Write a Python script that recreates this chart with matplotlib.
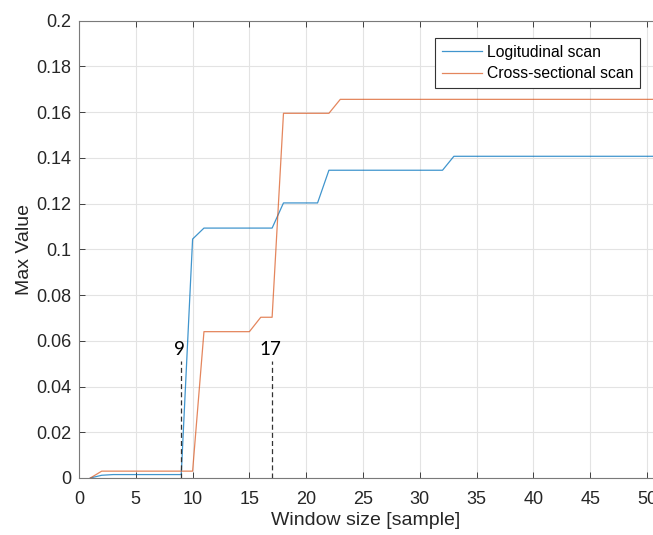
import matplotlib
matplotlib.use("Agg")
import matplotlib.pyplot as plt
import numpy as np

# Data
window = [1, 2, 3, 4, 5, 6, 7, 8, 9, 10, 11, 12, 13, 14, 15, 16, 17, 18, 19, 20,
          21, 22, 23, 24, 25, 26, 27, 28, 29, 30, 31, 32, 33, 34, 35, 36, 37, 38,
          39, 40, 41, 42, 43, 44, 45, 46, 47, 48, 49, 50, 51]
longitudinal = [0.0, 0.0012, 0.0015, 0.0015, 0.0015, 0.0015, 0.0015, 0.0015, 0.0015,
                0.1045, 0.1093, 0.1093, 0.1093, 0.1093, 0.1093, 0.1093, 0.1093,
                0.1203, 0.1203, 0.1203, 0.1203, 0.1346, 0.1346, 0.1346, 0.1346,
                0.1346, 0.1346, 0.1346, 0.1346, 0.1346, 0.1346, 0.1346, 0.1407,
                0.1407, 0.1407, 0.1407, 0.1407, 0.1407, 0.1407, 0.1407, 0.1407,
                0.1407, 0.1407, 0.1407, 0.1407, 0.1407, 0.1407, 0.1407, 0.1407,
                0.1407, 0.1407]
cross_sectional = [0.0, 0.003, 0.003, 0.003, 0.003, 0.003, 0.003, 0.003, 0.003, 0.003,
                   0.064, 0.064, 0.064, 0.064, 0.064, 0.0703, 0.0703, 0.1595, 0.1595,
                   0.1595, 0.1595, 0.1595, 0.1656, 0.1656, 0.1656, 0.1656, 0.1656,
                   0.1656, 0.1656, 0.1656, 0.1656, 0.1656, 0.1656, 0.1656, 0.1656,
                   0.1656, 0.1656, 0.1656, 0.1656, 0.1656, 0.1656, 0.1656, 0.1656,
                   0.1656, 0.1656, 0.1656, 0.1656, 0.1656, 0.1656, 0.1656, 0.1656]
series_labels = ["Logitudinal scan", "Cross-sectional scan"]
marker_x = [9, 17]
marker_top = 0.051
marker_label_y = 0.0538
marker_labels = ["9", "17"]
x_ticks = [0, 5, 10, 15, 20, 25, 30, 35, 40, 45, 50]
y_ticks = [0, 0.02, 0.04, 0.06, 0.08, 0.1, 0.12, 0.14, 0.16, 0.18, 0.2]
y_tick_labels = ["0", "0.02", "0.04", "0.06", "0.08", "0.1", "0.12", "0.14", "0.16", "0.18", "0.2"]

plt.rcParams['font.family'] = ['Liberation Sans', 'DejaVu Sans']
axcol = '#262626'

fig = plt.figure(figsize=(6.53, 5.35), dpi=100)
ax = fig.add_axes([79/653, 1 - 478/535, 1 - 79/653, (478 - 20.7)/535])

ax.plot(window, longitudinal, color='#0072BD', lw=0.9, label=series_labels[0], alpha=0.75)
ax.plot(window, cross_sectional, color='#D95319', lw=0.9, label=series_labels[1], alpha=0.7)

for xv, lab in zip(marker_x, marker_labels):
    ax.plot([xv, xv], [0, marker_top], ls=(0, (4, 2.5)), color='#333333', lw=0.9)
    ax.text(xv - 0.17, marker_label_y, lab, ha='center', va='baseline',
            fontsize=13.5, family=['Lato', 'DejaVu Sans'], color='black')

ax.set_xlim(0, (653 - 79) / ((647 - 79) / 50))
ax.set_ylim(0, 0.2)
ax.set_xticks(x_ticks)
ax.set_yticks(y_ticks)
ax.set_yticklabels(y_tick_labels)
ax.grid(True, color='#e3e3e3', lw=0.8)
ax.set_axisbelow(True)
ax.tick_params(direction='in', top=True, right=False, length=4, width=0.6,
               colors=axcol, labelsize=13)
ax.tick_params(axis='x', pad=9)
ax.tick_params(axis='y', pad=5.5)
for s in ['left', 'bottom', 'top']:
    ax.spines[s].set_color('#7a7a7a')
    ax.spines[s].set_linewidth(0.8)
ax.spines['right'].set_visible(False)

ax.set_xlabel("Window size [sample]", fontsize=14, color=axcol, labelpad=3)
ax.set_ylabel("Max Value", fontsize=14, color=axcol, labelpad=2)

leg = ax.legend(loc='upper right', bbox_to_anchor=(0.977, 0.962), fontsize=11.3,
                frameon=True, fancybox=False, edgecolor='#333333', framealpha=1,
                borderpad=0.42, handlelength=2.55, handletextpad=0.3, labelspacing=0.42,
                borderaxespad=0)
leg.get_frame().set_linewidth(0.8)

fig.savefig("out.png", dpi=100)
